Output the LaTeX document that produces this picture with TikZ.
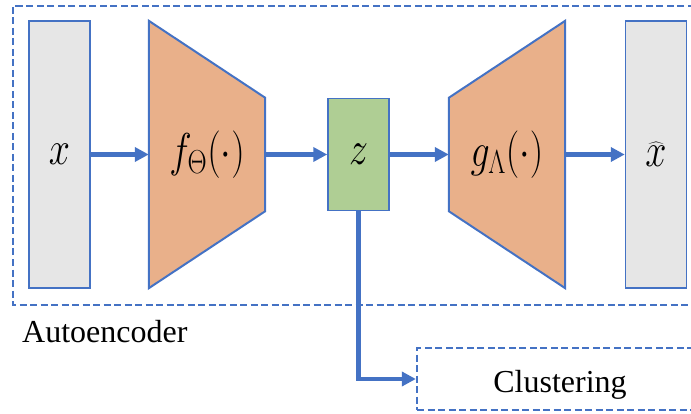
\RequirePackage{fix-cm}
\documentclass[tikz,border=0pt]{standalone}
\usepackage{fontspec}
\setmainfont{Liberation Serif}
\usepackage{graphicx}
\usetikzlibrary{arrows.meta,backgrounds}

\newlength{\du}
\setlength{\du}{1pt}

\definecolor{edgeblue}{RGB}{68,114,196}
\definecolor{datagray}{RGB}{230,230,230}
\definecolor{netorange}{RGB}{233,176,138}
\definecolor{codegreen}{RGB}{175,206,148}

% math labels come out a bit taller than wide in the original
\newcommand{\mathlabel}[1]{\scalebox{1}[1.25]{\fontsize{38}{40}\selectfont$#1$}}

\tikzset{
	datanode/.style={draw=edgeblue, line width=1.5\du, fill=datagray, minimum width=61\du, minimum height=267\du, inner sep=0pt},
	codenode/.style={draw=edgeblue, line width=1.5\du, fill=codegreen, minimum width=61\du, minimum height=112\du, inner sep=0pt},
	netnode/.style={minimum width=116\du, minimum height=267\du, inner sep=0pt},
	netshape/.style={draw=edgeblue, line width=2\du, fill=netorange, line join=miter},
	flow/.style={edgeblue, line width=4.5\du, -{Triangle[length=14pt,width=14pt]}},
	dashframe/.style={draw=edgeblue, line width=2.3\du, dash pattern=on 7\du off 3.5\du},
	caption/.style={font=\fontsize{32}{36}\selectfont, inner sep=0pt}
}

\begin{document}
\begin{tikzpicture}[yscale=-1]
	\useasboundingbox (0,0) rectangle (691\du,414\du);
	% autoencoder frame, open to the right
	\draw[dashframe] (705\du,6\du) -- (13\du,6\du) -- (13\du,305\du) -- (705\du,305\du);
	\node[caption, anchor=base west] (ae) at (22\du,342\du) {Autoencoder};

	\node[datanode] (x) at (59.5\du,154.5\du) {\mathlabel{x}};
	\node[netnode] (f) at (207\du,154.5\du) {\mathlabel{f_\Theta(\cdot)}};
	\node[codenode] (z) at (358.5\du,154.5\du) {\mathlabel{z}};
	\node[netnode] (g) at (507\du,154.5\du) {\mathlabel{g_\Lambda(\cdot)}};
	\node[datanode] (xhat) at (656\du,154.5\du) {\mathlabel{\widehat{\,x\,}}};

	\begin{scope}[on background layer]
		\draw[netshape] (f.north west) -- (f.east |- z.north) -- (f.east |- z.south) -- (f.south west) -- cycle;
		\draw[netshape] (g.north east) -- (g.west |- z.north) -- (g.west |- z.south) -- (g.south east) -- cycle;
	\end{scope}

	\draw[flow] (x.east) -- (f.west);
	\draw[flow] (f.east) -- (z.west);
	\draw[flow] (z.east) -- (g.west);
	\draw[flow] (g.east) -- (xhat.west);

	% clustering frame, also open to the right
	\node[dashframe, minimum width=286\du, minimum height=62\du, inner sep=0pt] (clubox) at (560\du,379\du) {};
	\node[caption, anchor=base] (clu) at (560\du,392\du) {Clustering};
	\draw[flow] (z.south) |- (clubox.west);
\end{tikzpicture}
\end{document}
